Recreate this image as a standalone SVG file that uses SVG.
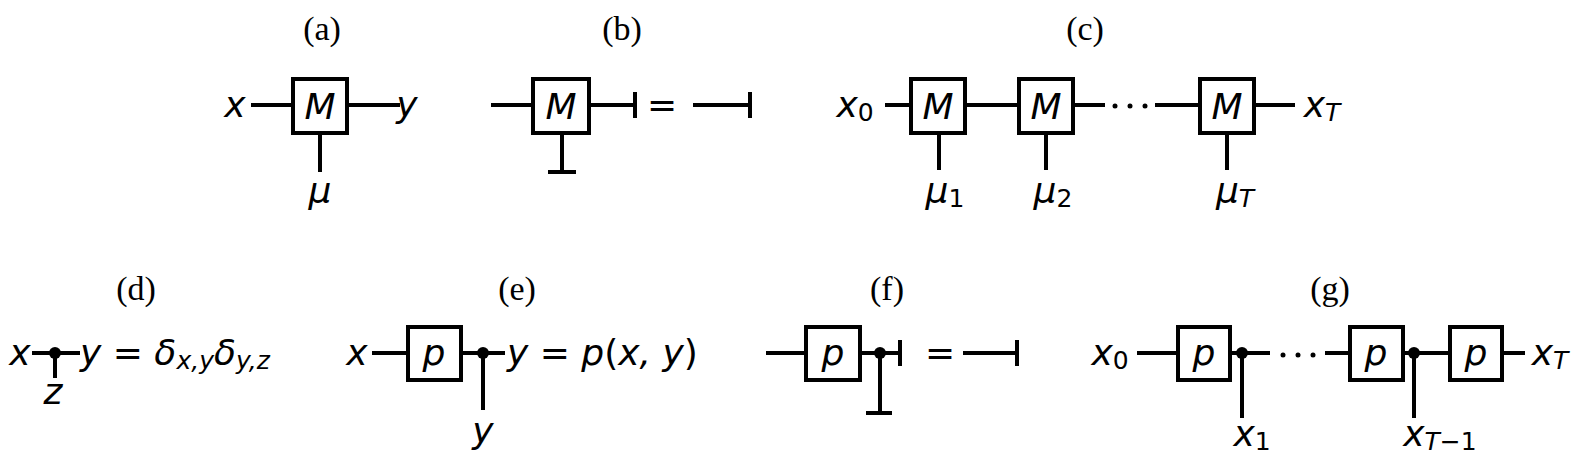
<svg xmlns="http://www.w3.org/2000/svg" width="1578" height="462" viewBox="0 0 1578 462">
<style>
.l{stroke:#000;stroke-width:4;fill:none}
.b{stroke:#000;stroke-width:4;fill:#fff}
.m{font-family:"DejaVu Sans",sans-serif;font-style:italic;font-size:36px;text-anchor:middle;dominant-baseline:central}
.r{font-family:"DejaVu Sans",sans-serif;font-size:36px;text-anchor:middle;dominant-baseline:central}
.s{font-size:25px;font-style:normal}
.si{font-size:25px}
.c{font-family:"Liberation Serif",serif;font-size:34px;text-anchor:middle}
</style>
<rect width="1578" height="462" fill="#fff"/>
<g id="captions">
<text class="c" x="322" y="40">(a)</text><text class="c" x="622" y="40">(b)</text><text class="c" x="1085" y="40">(c)</text>
<text class="c" x="136" y="300">(d)</text><text class="c" x="517" y="300">(e)</text><text class="c" x="887" y="300">(f)</text><text class="c" x="1330" y="300">(g)</text>
</g>
<g id="connectors">
<path class="l" d="M251 105H293M347 105H400M320 133V172"/>
<path class="l" d="M491 105H533M589 105H635M635 92V118M562 133V172M548 172H576M693 105H750M750 92V118"/>
<path class="l" d="M885 105H911M965 105H1019M1073 105H1105M1155 105H1200M1254 105H1295M939 133V170M1046 133V170M1227 133V170"/>
<path class="l" d="M32 353H80M55 353V378"/>
<path class="l" d="M372 353H408M461 353H505M483 353V410"/>
<path class="l" d="M766 353H806M860 353H900M900 340V366M880 353V413M866 413H892M963 353H1017M1017 340V366"/>
<path class="l" d="M1137 353H1178M1230 353H1270M1242 353V418M1325 353H1350M1403 353H1450M1414 353V418M1502 353H1525"/>
</g>
<g id="dots">
<circle cx="55" cy="353" r="6"/><circle cx="483" cy="353" r="6"/><circle cx="880" cy="353" r="6"/><circle cx="1242" cy="353" r="6"/><circle cx="1414" cy="353" r="6"/>
<circle cx="1115" cy="106" r="2.5"/><circle cx="1130" cy="106" r="2.5"/><circle cx="1145" cy="106" r="2.5"/>
<circle cx="1283" cy="355" r="2.5"/><circle cx="1298" cy="355" r="2.5"/><circle cx="1313" cy="355" r="2.5"/>
</g>
<g id="a"><rect class="b" x="293" y="79" width="54" height="54"/><text class="m" x="320" y="106">M</text>
<text class="m" x="235" y="104">x</text><text class="m" x="407" y="104">y</text><text class="m" x="320" y="190">μ</text></g>
<g id="b"><rect class="b" x="533" y="79" width="56" height="54"/><text class="m" x="561" y="106">M</text><text class="r" x="662" y="104">=</text></g>
<g id="c">
<rect class="b" x="911" y="79" width="54" height="54"/><text class="m" x="938" y="106">M</text>
<rect class="b" x="1019" y="79" width="54" height="54"/><text class="m" x="1046" y="106">M</text>
<rect class="b" x="1200" y="79" width="54" height="54"/><text class="m" x="1227" y="106">M</text>
<text class="m" x="855" y="104">x<tspan class="s" dy="8">0</tspan></text>
<text class="m" x="1322" y="104">x<tspan class="si" dy="8">T</tspan></text>
<text class="m" x="945" y="190">μ<tspan class="s" dy="8">1</tspan></text>
<text class="m" x="1053" y="190">μ<tspan class="s" dy="8">2</tspan></text>
<text class="m" x="1235" y="190">μ<tspan class="si" dy="8">T</tspan></text>
</g>
<g id="d"><text class="m" x="20" y="352">x</text><text class="m" x="53" y="391">z</text>
<text class="m" x="80" y="352" style="text-anchor:start">y <tspan font-style="normal">=</tspan> δ<tspan class="si" dy="8">x,y</tspan><tspan dy="-8">δ</tspan><tspan class="si" dy="8">y,z</tspan></text></g>
<g id="e"><rect class="b" x="408" y="327" width="53" height="53"/><text class="m" x="434" y="352">p</text>
<text class="m" x="357" y="352">x</text><text class="m" x="483" y="430">y</text>
<text class="m" x="507" y="352" style="text-anchor:start">y <tspan font-style="normal">=</tspan> p<tspan font-style="normal">(</tspan>x, y<tspan font-style="normal">)</tspan></text></g>
<g id="f"><rect class="b" x="806" y="327" width="54" height="53"/><text class="m" x="833" y="352">p</text><text class="r" x="940" y="352">=</text></g>
<g id="g">
<rect class="b" x="1178" y="327" width="52" height="53"/><text class="m" x="1204" y="352">p</text>
<rect class="b" x="1350" y="327" width="53" height="53"/><text class="m" x="1376" y="352">p</text>
<rect class="b" x="1450" y="327" width="52" height="53"/><text class="m" x="1476" y="352">p</text>
<text class="m" x="1110" y="352">x<tspan class="s" dy="8">0</tspan></text>
<text class="m" x="1550" y="352">x<tspan class="si" dy="8">T</tspan></text>
<text class="m" x="1252" y="433">x<tspan class="s" dy="8">1</tspan></text>
<text class="m" x="1440" y="433">x<tspan class="si" dy="8">T</tspan><tspan class="s">−1</tspan></text>
</g>
</svg>
